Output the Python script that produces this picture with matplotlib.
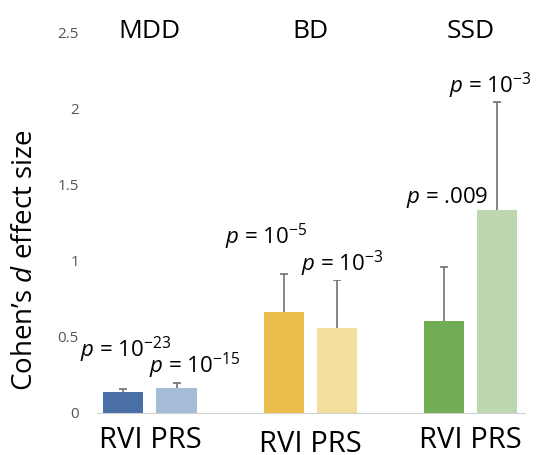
import numpy as np
import matplotlib
matplotlib.use('Agg')
import matplotlib.pyplot as plt
from matplotlib.transforms import ScaledTranslation

plt.rcParams['font.family'] = ['Open Sans', 'DejaVu Sans']
plt.rcParams['mathtext.fontset'] = 'custom'
plt.rcParams['mathtext.rm'] = 'Open Sans'
plt.rcParams['mathtext.it'] = 'Open Sans:italic'

groups = ['MDD', 'BD', 'SSD']
rvi = [0.14, 0.66, 0.605]
prs = [0.165, 0.56, 1.335]
rvi_err = [0.02, 0.25, 0.355]
prs_err = [0.035, 0.31, 0.705]
rvi_col = ['#4a6ea6', '#e9be4c', '#70ad54']
prs_col = ['#a6bdd7', '#f3de9c', '#bdd7b1']
rvi_p = ['$\\it{p}$ = 10$^{-23}$', '$\\it{p}$ = 10$^{-5}$', '$\\it{p}$ = .009']
prs_p = ['$\\it{p}$ = 10$^{-15}$', '$\\it{p}$ = 10$^{-3}$', '$\\it{p}$ = 10$^{-3}$']

x = np.arange(len(groups))
w = 0.25
off = 0.166

fig = plt.figure(figsize=(5.39, 4.55), dpi=100)
ax = fig.add_axes([97/539, 1-413/455, 428/539, 381/455])

ax.bar(x-off, rvi, w, color=rvi_col)
ax.bar(x+off, prs, w, color=prs_col)
for xs, ys, es in [(x-off, rvi, rvi_err), (x+off, prs, prs_err)]:
    eb = ax.errorbar(xs, ys, yerr=[np.zeros(3), es], fmt='none', ecolor='#707070',
                     elinewidth=1.2, capsize=3, capthick=1.2)
    eb[1][0].set_visible(False)  # hide lower caps

ax.set_xlim(-0.33, 2.34)
ax.set_ylim(0, 2.5)
ax.set_yticks([0, 0.5, 1, 1.5, 2, 2.5])
ax.set_yticklabels(['0', '0.5', '1', '1.5', '2', '2.5'])
ax.set_xticks(x)
ax.set_xticklabels(['RVI PRS'] * 3, fontsize=21)
ax.tick_params(axis='y', length=0, labelsize=11, labelcolor='#555555', pad=13)
ax.tick_params(axis='x', length=0, pad=9)
# middle label sits a little lower in the original
lab = ax.get_xticklabels()[1]
lab.set_transform(lab.get_transform() + ScaledTranslation(0, -3/72, fig.dpi_scale_trans))
for s in ['top', 'right', 'left']:
    ax.spines[s].set_visible(False)
ax.spines['bottom'].set_color('#d0d0d0')
ax.set_ylabel('Cohen\u2019s $\\it{d}$ effect size', fontsize=20)
ax.yaxis.set_label_coords(-0.135, 0.40)

for i, g in enumerate(groups):
    ax.text(x[i], 2.5, g, ha='center', va='center', fontsize=19)

box = dict(facecolor='white', edgecolor='none', pad=0.5)
# p-value label spots
rvi_px = [-0.15, 0.725, 1.856]
rvi_py = [0.368, 1.105, 1.38]
prs_px = [0.28, 1.2, 2.12]
prs_py = [0.263, 0.93, 2.1]
for i in range(3):
    ax.text(rvi_px[i], rvi_py[i], rvi_p[i], ha='center', va='baseline', fontsize=16, bbox=box, zorder=3)
    ax.text(prs_px[i], prs_py[i], prs_p[i], ha='center', va='baseline', fontsize=16, bbox=box, zorder=4)

fig.savefig('out.png', dpi=100)
